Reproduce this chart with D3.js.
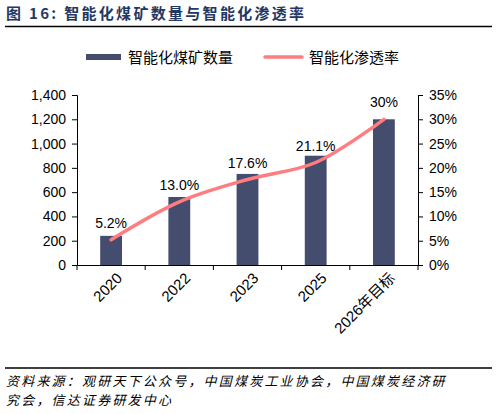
<!DOCTYPE html><html><head><meta charset="utf-8"><script src="https://cdn.jsdelivr.net/npm/d3@7"></script>
<style>body{margin:0;background:#fff}svg{font-family:"Liberation Sans",Arial,"Noto Sans CJK SC",sans-serif}</style></head><body><svg id="c" width="497" height="414"></svg>
<script>
const categories=["2020","2022","2023","2025","2026年目标"];
const counts=[240,560,750,900,1200];
const rates=[5.2,13.0,17.6,21.1,30.0];
const rateLabels=["5.2%","13.0%","17.6%","21.1%","30%"];
const leftTicks=[0,200,400,600,800,1000,1200,1400];
const rightTicks=[0,5,10,15,20,25,30,35];
const svg=d3.select("#c");
const cjk='"Noto Sans CJK SC",sans-serif';
svg.append("text").attr("x",6).attr("y",19).attr("fill","#1f3864").attr("font-weight","bold").attr("font-size",15).attr("font-family",cjk).attr("letter-spacing",2.3).text("图 16:  智能化煤矿数量与智能化渗透率");
svg.append("line").attr("x1",5).attr("x2",492).attr("y1",26.5).attr("y2",26.5).attr("stroke","#000").attr("stroke-width",1.5);
const x=d3.scaleBand().domain(categories).range([77,418]).paddingInner(0.68).paddingOuter(0.34);
const y=d3.scaleLinear().domain([0,1400]).range([265,95]);
const y2=d3.scaleLinear().domain([0,35]).range([265,95]);
svg.append("rect").attr("x",86).attr("y",54).attr("width",35).attr("height",6).attr("fill","#454d6e");
svg.append("text").attr("x",128).attr("y",63).attr("font-size",15).attr("font-family",cjk).attr("fill","#000").text("智能化煤矿数量");
svg.append("line").attr("x1",265).attr("x2",302).attr("y1",57).attr("y2",57).attr("stroke","#ff7c80").attr("stroke-width",3.5).attr("stroke-linecap","round");
svg.append("text").attr("x",309).attr("y",63).attr("font-size",15).attr("font-family",cjk).attr("fill","#000").text("智能化渗透率");
svg.selectAll(".bar").data(counts).join("rect").attr("x",(d,i)=>x(categories[i])).attr("width",x.bandwidth()).attr("y",d=>y(d)).attr("height",d=>265-y(d)).attr("fill","#454d6e");
const cx=i=>x(categories[i])+x.bandwidth()/2;
svg.append("path").datum(rates).attr("fill","none").attr("stroke","#ff7c80").attr("stroke-width",3.5).attr("stroke-linecap","round")
 .attr("d",d3.line().x((d,i)=>cx(i)).y(d=>y2(d)).curve(d3.curveCatmullRom));
svg.selectAll(".lbl").data(rates).join("text").attr("x",(d,i)=>cx(i)).attr("y",d=>y2(d)-12).attr("text-anchor","middle").attr("font-size",14).text((d,i)=>rateLabels[i]);
const ga=svg.append("g").attr("transform","translate(77,0)").call(d3.axisLeft(y).tickValues(leftTicks).tickFormat(d3.format(",")).tickSize(5).tickPadding(6));
const gb=svg.append("g").attr("transform","translate(418,0)").call(d3.axisRight(y2).tickValues(rightTicks).tickFormat(d=>d+"%").tickSize(5).tickPadding(6));
const gx=svg.append("g").attr("transform","translate(0,265)").call(d3.axisBottom(x).tickSize(0).tickPadding(8));
const bounds=d3.range(6).map(i=>77+i*341/5);
gx.selectAll(".bt").data(bounds).join("line").attr("x1",d=>d).attr("x2",d=>d).attr("y1",0).attr("y2",5).attr("stroke","#000");
[ga,gb,gx].forEach(g=>{g.selectAll("text").attr("font-size",14).attr("fill","#000").attr("font-family",'"Liberation Sans",Arial,"Noto Sans CJK SC",sans-serif');g.selectAll("path,line").attr("stroke","#000")});
gx.selectAll("text").attr("font-size",15).attr("transform","rotate(-45)").attr("text-anchor","end").attr("dx","-0.1em").attr("dy","0.7em");
svg.append("line").attr("x1",5).attr("x2",492).attr("y1",368).attr("y2",368).attr("stroke","#000").attr("stroke-width",1.5);
const src=svg.append("text").attr("font-size",13).attr("font-style","italic").attr("font-family",cjk).attr("fill","#000").attr("letter-spacing",2.2);
src.append("tspan").attr("x",6).attr("y",386).text("资料来源：观研天下公众号，中国煤炭工业协会，中国煤炭经济研");
src.append("tspan").attr("x",6).attr("y",405).text("究会，信达证券研发中心");
</script></body></html>
